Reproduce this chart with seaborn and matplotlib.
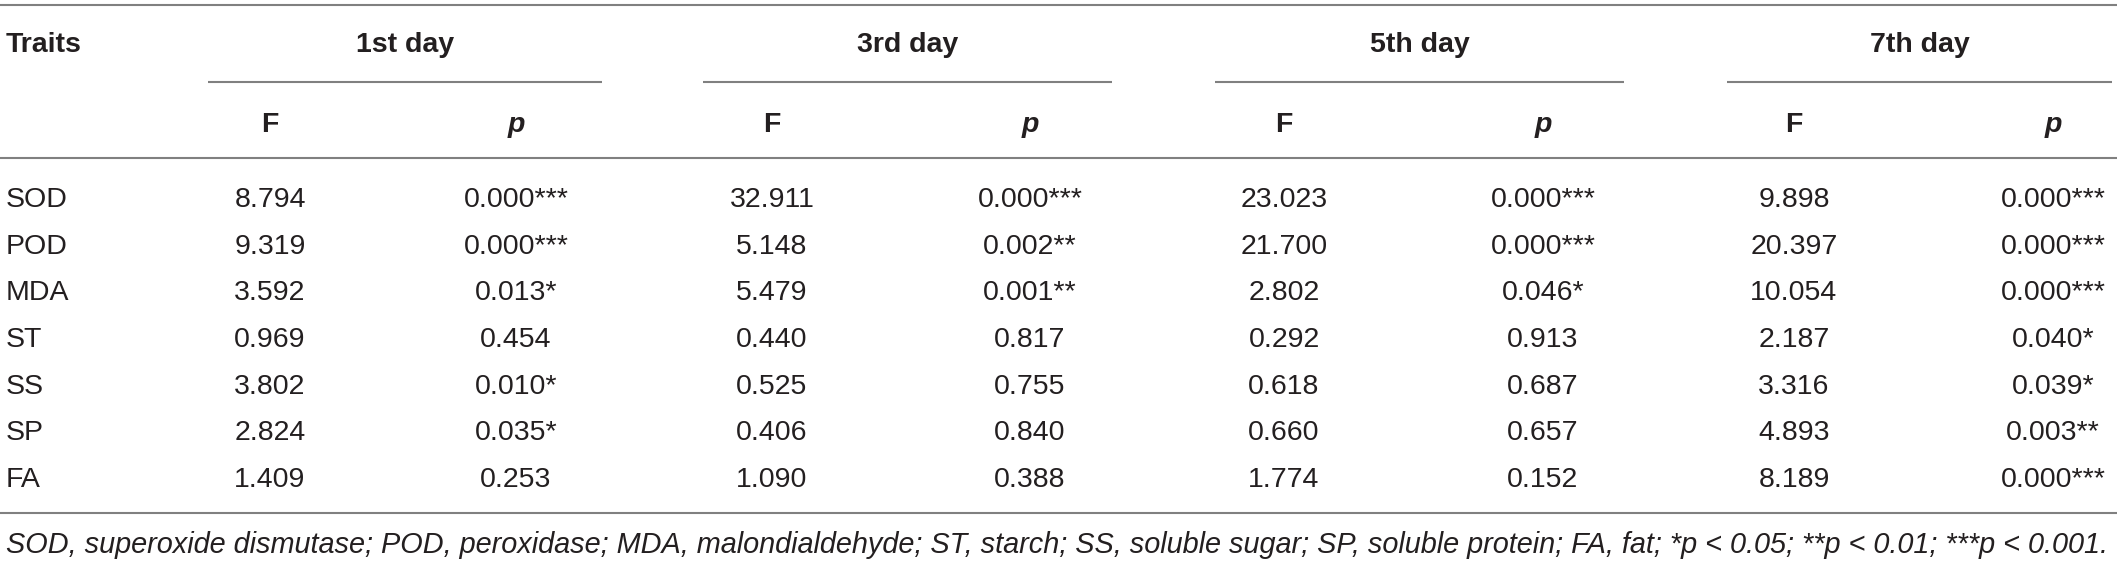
import pandas as pd
import matplotlib
matplotlib.use("Agg")
import matplotlib.pyplot as plt
import seaborn as sns

# Table values as printed in the reference
traits = ["SOD", "POD", "MDA", "ST", "SS", "SP", "FA"]
days = ["1st day", "3rd day", "5th day", "7th day"]

f_1st = ["8.794", "9.319", "3.592", "0.969", "3.802", "2.824", "1.409"]
p_1st = ["0.000***", "0.000***", "0.013*", "0.454", "0.010*", "0.035*", "0.253"]
f_3rd = ["32.911", "5.148", "5.479", "0.440", "0.525", "0.406", "1.090"]
p_3rd = ["0.000***", "0.002**", "0.001**", "0.817", "0.755", "0.840", "0.388"]
f_5th = ["23.023", "21.700", "2.802", "0.292", "0.618", "0.660", "1.774"]
p_5th = ["0.000***", "0.000***", "0.046*", "0.913", "0.687", "0.657", "0.152"]
f_7th = ["9.898", "20.397", "10.054", "2.187", "3.316", "4.893", "8.189"]
p_7th = ["0.000***", "0.000***", "0.000***", "0.040*", "0.039*", "0.003**", "0.000***"]

footnote = ("SOD, superoxide dismutase; POD, peroxidase; MDA, malondialdehyde; "
            "ST, starch; SS, soluble sugar; SP, soluble protein; FA, fat; "
            "*p < 0.05; **p < 0.01; ***p < 0.001.")

sns.set_theme(style="white")
plt.rcParams["font.family"] = ["Liberation Sans", "DejaVu Sans"]

TXT = "#231f20"
RULE = "#808080"
W, H = 2117, 562

fig = plt.figure(figsize=(W / 100, H / 100), dpi=100)
ax = fig.add_axes([0, 0, 1, 1])
ax.set_xlim(0, W)
ax.set_ylim(H, 0)
ax.set_axis_off()

# layout (pixels)
group_span = [(208, 602), (703, 1112), (1215, 1624), (1727, 2112)]
f_x = [270, 772, 1284, 1794]
p_x = [516, 1030, 1543, 2053]
row_y0, row_step = 197, 46.7

head = dict(weight="bold", fontsize=20.5, color=TXT, va="center_baseline")

# rules
ax.hlines([5, 158, 513], 0, W, color=RULE, lw=1.5)
for x0, x1 in group_span:
    ax.hlines(82, x0, x1, color=RULE, lw=1.5)

ax.text(6, 42, "Traits", ha="left", **head)
for (x0, x1), d, fx, px in zip(group_span, days, f_x, p_x):
    ax.text((x0 + x1) / 2, 42, d, ha="center", **head)
    ax.text(fx, 122, "F", ha="center", **head)
    ax.text(px, 122, "p", ha="center", style="italic", **head)

df = pd.DataFrame({"trait": traits,
                   "F1": f_1st, "p1": p_1st, "F3": f_3rd, "p3": p_3rd,
                   "F5": f_5th, "p5": p_5th, "F7": f_7th, "p7": p_7th})

body = dict(fontsize=20.5, color=TXT, va="center_baseline")
for i, row in df.iterrows():
    y = row_y0 + i * row_step
    ax.text(6, y, row["trait"], ha="left", **body)
    for k, tag in enumerate(["1", "3", "5", "7"]):
        ax.text(f_x[k], y, row["F" + tag], ha="center", **body)
        ax.text(p_x[k], y, row["p" + tag], ha="center", **body)

ax.text(6, 542, footnote, ha="left", style="italic", fontsize=20.8,
        color=TXT, va="center_baseline")

fig.savefig("out.png", dpi=100, facecolor="white")
